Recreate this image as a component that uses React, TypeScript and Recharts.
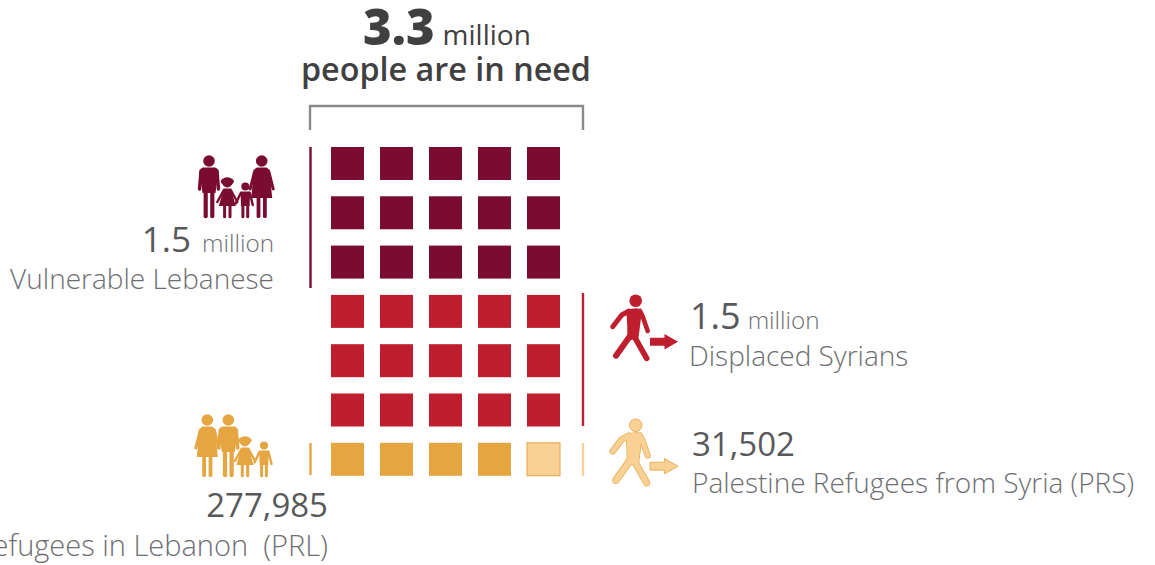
import { Scatter, ScatterChart, XAxis, YAxis } from 'recharts';

// Unit chart: 35 squares in 5 columns and 7 rows
const columns = [0, 1, 2, 3, 4];
const lebaneseRows = [0, 1, 2];
const syrianRows = [3, 4, 5];
const prlColumns = [0, 1, 2, 3];
const prsColumns = [4];
const lastRow = 6;

const MAROON = '#7a0c32';
const RED = '#bf1e2e';
const ORANGE = '#e5a541';
const LIGHT = '#fad195';
const FONT = '"Open Sans", sans-serif';

const lebanese = lebaneseRows.flatMap(row => columns.map(col => ({ col, row })));
const syrians = syrianRows.flatMap(row => columns.map(col => ({ col, row })));
const prl = prlColumns.map(col => ({ col, row: lastRow }));
const prs = prsColumns.map(col => ({ col, row: lastRow }));

const square = (fill: string, stroke?: string) => (props: any) => (
  <rect
    x={props.cx - 16.5}
    y={props.cy - 16.5}
    width={33}
    height={33}
    fill={fill}
    stroke={stroke ?? 'none'}
    strokeWidth={stroke ? 1 : 0}
  />
);

const Limb = ({ d, color, w }: { d: string; color: string; w: number }) => (
  <path d={d} fill="none" stroke={color} strokeWidth={w} strokeLinecap="round" strokeLinejoin="round" />
);

const Man = ({ x, y, color }: { x: number; y: number; color: string }) => (
  <g transform={`translate(${x},${y})`} fill={color}>
    <circle cx={0} cy={-57} r={5.8} />
    <path d="M-6 -50.5 L6 -50.5 Q9 -50 9.5 -46 L6.5 -25 L-6.5 -25 L-9.5 -46 Q-9 -50 -6 -50.5 Z" />
    <Limb d="M-8 -47 L-9.5 -29" color={color} w={3.4} />
    <Limb d="M8 -47 L9.5 -29" color={color} w={3.4} />
    <Limb d="M-3.3 -27 L-3.3 -1.8" color={color} w={4.2} />
    <Limb d="M3.3 -27 L3.3 -1.8" color={color} w={4.2} />
  </g>
);

const Woman = ({ x, y, color }: { x: number; y: number; color: string }) => (
  <g transform={`translate(${x},${y})`} fill={color}>
    <circle cx={0} cy={-57} r={5.8} />
    <path d="M-4.5 -50.5 L4.5 -50.5 Q7 -50 8 -46 L10.5 -20 L-10.5 -20 L-8 -46 Q-7 -50 -4.5 -50.5 Z" />
    <Limb d="M-7 -47 L-11.5 -29" color={color} w={3} />
    <Limb d="M7 -47 L11.5 -29" color={color} w={3} />
    <Limb d="M-3.2 -20 L-3.2 -1.8" color={color} w={3.8} />
    <Limb d="M3.2 -20 L3.2 -1.8" color={color} w={3.8} />
  </g>
);

const Girl = ({ x, y, color }: { x: number; y: number; color: string }) => (
  <g transform={`translate(${x},${y})`} fill={color}>
    <circle cx={0} cy={-35.5} r={5} />
    <ellipse cx={0} cy={-36.5} rx={6.6} ry={4} />
    <path d="M-3.5 -29.5 L3.5 -29.5 L8.5 -12 L-8.5 -12 Z" />
    <Limb d="M-3.5 -28 L-10 -16" color={color} w={2.4} />
    <Limb d="M3.5 -28 L10 -16" color={color} w={2.4} />
    <Limb d="M-2.7 -12 L-2.7 -1.2" color={color} w={3} />
    <Limb d="M2.7 -12 L2.7 -1.2" color={color} w={3} />
  </g>
);

const Boy = ({ x, y, color }: { x: number; y: number; color: string }) => (
  <g transform={`translate(${x},${y})`} fill={color}>
    <circle cx={0} cy={-31.5} r={4} />
    <path d="M-4.8 -26.5 L4.8 -26.5 L4.3 -12 L-4.3 -12 Z" />
    <Limb d="M-4.5 -25 L-9.5 -14.5" color={color} w={2.4} />
    <Limb d="M4.5 -25 L7.5 -13" color={color} w={2.4} />
    <Limb d="M-2.4 -14 L-2.4 -1.2" color={color} w={3} />
    <Limb d="M2.4 -14 L2.4 -1.2" color={color} w={3} />
  </g>
);

const walkerLimbs = [
  { d: 'M629 311 L621.7 315 L612.7 326.7', w: 5 },
  { d: 'M640 311 L642.5 316 L647.7 331', w: 4.6 },
  { d: 'M630 336 L616 355.7', w: 6 },
  { d: 'M634 336 L646.7 358.3', w: 5.6 },
];
const WALKER_BODY = 'M626 311 Q633 307 640 309 L641 318 L638.5 338 L627 341 Q628 325 626 311 Z';

// Walking figure with an arrow, the outline pass goes under the fill
const Walker = ({ dy, color, outline }: { dy: number; color: string; outline?: string }) => (
  <g transform={`translate(0,${dy})`}>
    {outline && walkerLimbs.map(l => <Limb key={l.d} d={l.d} color={outline} w={l.w + 1.4} />)}
    {outline && <path d={WALKER_BODY} fill={outline} stroke={outline} strokeWidth={1.4} />}
    <circle cx={635.7} cy={300.7} r={6.3} fill={color} stroke={outline ?? 'none'} strokeWidth={outline ? 0.8 : 0} />
    {walkerLimbs.map(l => (
      <Limb key={l.d} d={l.d} color={color} w={l.w} />
    ))}
    <path d={WALKER_BODY} fill={color} />
    <path
      d="M650 337.7 L664.5 337.7 L664.5 334 L678 341.7 L664.5 349.4 L664.5 345.7 L650 345.7 Z"
      fill={color}
      stroke={outline ?? 'none'}
      strokeWidth={outline ? 0.8 : 0}
    />
  </g>
);

const App = () => (
  <div style={{ position: 'absolute', left: 0, top: 0, width: 1155, height: 565, background: '#fff' }}>
    <ScatterChart width={1155} height={565} margin={{ top: 0, right: 0, bottom: 0, left: 0 }}>
      <XAxis type="number" dataKey="col" hide domain={[-7.0918, 16.4796]} allowDataOverflow />
      <YAxis type="number" dataKey="row" hide reversed domain={[-3.316, 8.144]} allowDataOverflow width={0} />

      <Scatter data={lebanese} isAnimationActive={false} shape={square(MAROON)} />
      <Scatter data={syrians} isAnimationActive={false} shape={square(RED)} />
      <Scatter data={prl} isAnimationActive={false} shape={square(ORANGE)} />
      <Scatter data={prs} isAnimationActive={false} shape={square(LIGHT, ORANGE)} />

      {/* Bracket and side rules */}
      <path d="M310 130 L310 106 L583 106 L583 130" fill="none" stroke="#8a8a8c" strokeWidth={2.4} />
      <line x1={310.5} y1={147} x2={310.5} y2={288} stroke={MAROON} strokeWidth={2.4} />
      <line x1={583} y1={293} x2={583} y2={426} stroke={RED} strokeWidth={2.4} />
      <line x1={583} y1={443} x2={583} y2={476} stroke={LIGHT} strokeWidth={2.4} />
      <line x1={310.5} y1={443} x2={310.5} y2={475} stroke={ORANGE} strokeWidth={2.4} />

      {/* Icons */}
      <Man x={209} y={218} color={MAROON} />
      <Girl x={227.3} y={218} color={MAROON} />
      <Boy x={245.3} y={218} color={MAROON} />
      <Woman x={261.7} y={218} color={MAROON} />
      <Woman x={207.3} y={477} color={ORANGE} />
      <Man x={228.3} y={477} color={ORANGE} />
      <Girl x={245} y={477} color={ORANGE} />
      <Boy x={264} y={477} color={ORANGE} />
      <Walker dy={0} color={RED} />
      <Walker dy={124.5} color={LIGHT} outline={ORANGE} />

      {/* Heading */}
      <text x={363} y={45} fontFamily={FONT} fill="#404041">
        <tspan fontSize={49} fontWeight={800}>3.3</tspan>
        <tspan dx={8} fontSize={28} fontWeight={400}>million</tspan>
      </text>
      <text x={446} y={81} textAnchor="middle" fontFamily={FONT} fontSize={32.3} fontWeight={600} fill="#404041">
        people are in need
      </text>

      {/* Left labels */}
      <text x={274} y={252} textAnchor="end" fontFamily={FONT} fontWeight={300} fill="#6d6e71">
        <tspan fontSize={35} fill="#58595b" fontWeight={400}>1.5</tspan>
        <tspan dx={11} fontSize={24.3}>million</tspan>
      </text>
      <text x={274} y={289} textAnchor="end" fontFamily={FONT} fontSize={28} fontWeight={300} fill="#6d6e71">
        Vulnerable Lebanese
      </text>
      <text x={328} y={517} textAnchor="end" fontFamily={FONT} fontSize={33} fontWeight={500} fill="#58595b">
        277,985
      </text>
      <text x={328} y={556} textAnchor="end" fontFamily={FONT} fontSize={29} fontWeight={300} fill="#6d6e71" style={{ whiteSpace: 'pre' }}>
        Palestine Refugees in Lebanon  (PRL)
      </text>

      {/* Right labels */}
      <text x={690} y={329} fontFamily={FONT} fontWeight={300} fill="#6d6e71">
        <tspan fontSize={36} fill="#58595b" fontWeight={400}>1.5</tspan>
        <tspan dx={7} fontSize={24.3}>million</tspan>
      </text>
      <text x={689} y={366} fontFamily={FONT} fontSize={28} fontWeight={300} fill="#6d6e71">
        Displaced Syrians
      </text>
      <text x={692} y={456} fontFamily={FONT} fontSize={33} fontWeight={500} fill="#58595b">
        31,502
      </text>
      <text x={692} y={493} fontFamily={FONT} fontSize={28} fontWeight={300} fill="#6d6e71">
        Palestine Refugees from Syria (PRS)
      </text>
    </ScatterChart>
  </div>
);

export default App;
